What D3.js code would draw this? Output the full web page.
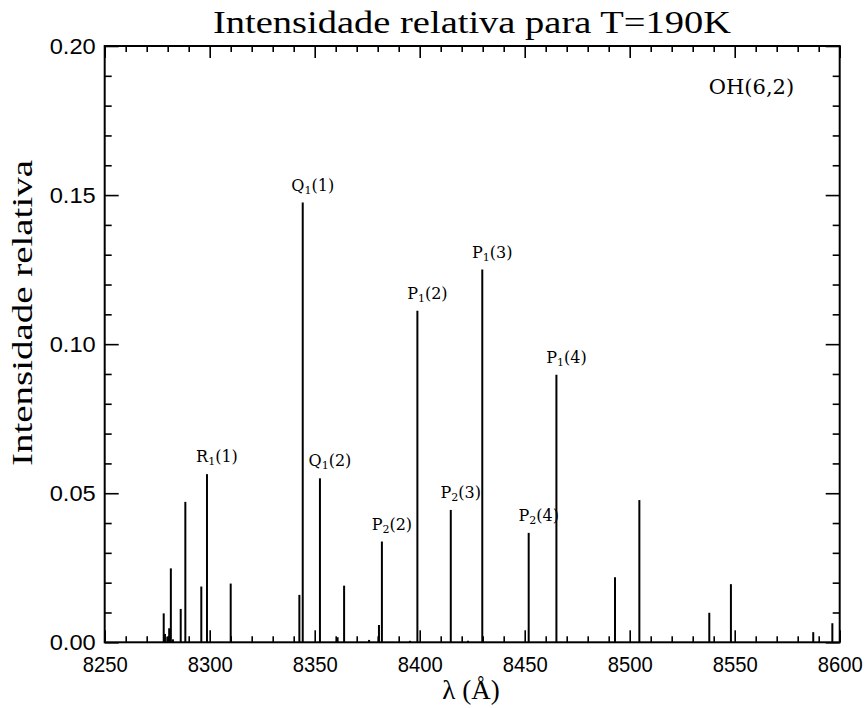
<!DOCTYPE html>
<html>
<head>
<meta charset="utf-8">
<script src="https://cdn.jsdelivr.net/npm/d3@7"></script>
<style>
  html, body { margin: 0; padding: 0; background: #fff; }
  svg { display: block; }
</style>
</head>
<body>
<svg id="chart" width="868" height="708"></svg>
<script>
// ---- data ----
const wavelengths = [8278.1, 8278.7, 8279.8, 8280.7, 8281.5, 8282.5, 8286.2, 8288.4, 8296.0, 8298.7,
  8310.0, 8342.7, 8344.3, 8352.5, 8360.9, 8364.0, 8375.9, 8380.6, 8382.0, 8395.4,
  8398.9, 8414.8, 8423.0, 8429.8, 8451.9, 8465.1, 8493.0, 8504.6, 8537.9, 8548.2,
  8587.4, 8596.5];
const intensities = [0.0097, 0.0028, 0.0019, 0.0047, 0.0248, 0.0010, 0.0112, 0.0471, 0.0187, 0.0564,
  0.0197, 0.0159, 0.1475, 0.0550, 0.0017, 0.0190, 0.0008, 0.0058, 0.0338, 0.0005,
  0.1112, 0.0444, 0.0005, 0.1250, 0.0367, 0.0897, 0.0218, 0.0477, 0.0099, 0.0195,
  0.0034, 0.0064];
// labelled lines: main text, subscript, suffix, wavelength
const labelMain = ["R", "Q", "Q", "P", "P", "P", "P", "P", "P"];
const labelSub  = ["1", "1", "1", "2", "1", "2", "1", "2", "1"];
const labelArg  = ["(1)", "(1)", "(2)", "(2)", "(2)", "(3)", "(3)", "(4)", "(4)"];
const labelAt   = [8298.7, 8344.3, 8352.5, 8382.0, 8398.9, 8414.8, 8429.8, 8451.9, 8465.1];
const xMajorTicks = [8250, 8300, 8350, 8400, 8450, 8500, 8550, 8600];
const yMajorTicks = [0.00, 0.05, 0.10, 0.15, 0.20];
const titleText = "Intensidade relativa para T=190K";
const xLabelText = "λ (Å)";
const yLabelText = "Intensidade relativa";
const bandText = "OH(6,2)";

// ---- layout ----
const svg = d3.select("#chart");
const L = 104.7, R = 839.7, T = 46, B = 642.3;
const x = d3.scaleLinear().domain([8250, 8600]).range([L, R]);
const y = d3.scaleLinear().domain([0, 0.20]).range([B, T]);

const xMinor = d3.range(8250, 8601, 10).filter(v => v % 50 !== 0);
const yMinor = d3.range(0, 21, 1).map(v => v / 100).filter((v, i) => i % 5 !== 0);

const sans = "'Liberation Sans', Arial, sans-serif";
const serif = "'DejaVu Serif', serif";
const thinSerif = "'Liberation Serif', 'Times New Roman', serif";

// spectral lines
svg.append("g").selectAll("line").data(wavelengths).join("line")
  .attr("x1", d => x(d)).attr("x2", d => x(d))
  .attr("y1", y(0)).attr("y2", (d, i) => y(intensities[i]))
  .attr("stroke", "#000").attr("stroke-width", 2);

function styleAxis(g) {
  g.select(".domain").remove();
  g.selectAll(".tick line").attr("stroke", "#000").attr("stroke-width", 1.6);
}

// bottom axis
const gb = svg.append("g").attr("transform", `translate(0,${B})`)
  .call(d3.axisBottom(x).tickValues(xMajorTicks).tickSize(-12).tickPadding(14).tickFormat(d3.format("d")));
styleAxis(gb);
gb.selectAll("text").attr("font-family", sans).attr("font-size", 22).attr("fill", "#000")
  .attr("textLength", 45).attr("lengthAdjust", "spacingAndGlyphs");
styleAxis(svg.append("g").attr("transform", `translate(0,${B})`)
  .call(d3.axisBottom(x).tickValues(xMinor).tickSize(-6).tickFormat("")));
// top axis
styleAxis(svg.append("g").attr("transform", `translate(0,${T})`)
  .call(d3.axisTop(x).tickValues(xMajorTicks).tickSize(-12).tickFormat("")));
styleAxis(svg.append("g").attr("transform", `translate(0,${T})`)
  .call(d3.axisTop(x).tickValues(xMinor).tickSize(-6).tickFormat("")));
// left axis
const gl = svg.append("g").attr("transform", `translate(${L},0)`)
  .call(d3.axisLeft(y).tickValues(yMajorTicks).tickSize(-14).tickPadding(9).tickFormat(d3.format(".2f")));
styleAxis(gl);
gl.selectAll("text").attr("font-family", sans).attr("font-size", 22).attr("fill", "#000")
  .attr("textLength", 46).attr("lengthAdjust", "spacingAndGlyphs");
styleAxis(svg.append("g").attr("transform", `translate(${L},0)`)
  .call(d3.axisLeft(y).tickValues(yMinor).tickSize(-7).tickFormat("")));
// right axis
styleAxis(svg.append("g").attr("transform", `translate(${R},0)`)
  .call(d3.axisRight(y).tickValues(yMajorTicks).tickSize(-14).tickFormat("")));
styleAxis(svg.append("g").attr("transform", `translate(${R},0)`)
  .call(d3.axisRight(y).tickValues(yMinor).tickSize(-7).tickFormat("")));

// frame
svg.append("rect").attr("x", L).attr("y", T).attr("width", R - L).attr("height", B - T)
  .attr("fill", "none").attr("stroke", "#000").attr("stroke-width", 2);

// line labels
const lab = svg.append("g").selectAll("text").data(labelAt).join("text")
  .attr("x", d => x(d) + 10)
  .attr("y", d => y(intensities[wavelengths.indexOf(d)]) - 12)
  .attr("text-anchor", "middle")
  .attr("font-family", serif).attr("font-size", 16).attr("fill", "#000");
lab.append("tspan").text((d, i) => labelMain[i]);
lab.append("tspan").attr("font-size", 11).attr("dy", 3).text((d, i) => labelSub[i]);
lab.append("tspan").attr("dy", -3).text((d, i) => labelArg[i]);

// band label
svg.append("text").attr("x", 751.5).attr("y", 93.5).attr("text-anchor", "middle")
  .attr("font-family", serif).attr("font-size", 21).attr("fill", "#000").text(bandText);

// title
svg.append("text").attr("x", 472).attr("y", 33).attr("text-anchor", "middle")
  .attr("font-family", thinSerif).attr("font-size", 31).attr("fill", "#000")
  .attr("textLength", 518).attr("lengthAdjust", "spacingAndGlyphs").text(titleText);

// x label
svg.append("text").attr("x", 471).attr("y", 699).attr("text-anchor", "middle")
  .attr("font-family", thinSerif).attr("font-size", 27).attr("fill", "#000").text(xLabelText);

// y label
svg.append("text").attr("transform", `translate(32,313) rotate(-90)`).attr("text-anchor", "middle")
  .attr("font-family", thinSerif).attr("font-size", 29).attr("fill", "#000")
  .attr("textLength", 306).attr("lengthAdjust", "spacingAndGlyphs").text(yLabelText);
</script>
</body>
</html>
